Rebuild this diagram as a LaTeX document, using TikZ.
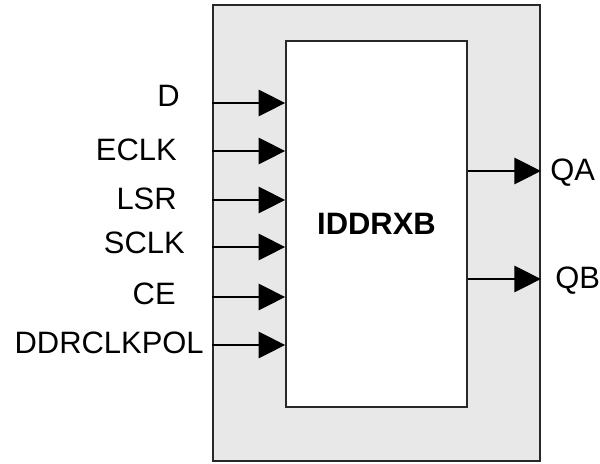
\documentclass[tikz,border=0pt]{standalone}
\usepackage{fontspec}
\setmainfont{Liberation Sans}
\usepackage{tikz}
\usetikzlibrary{arrows.meta}
\usepackage{xcolor}
\definecolor{shellgrey}{RGB}{232,232,232}
\definecolor{edgegrey}{RGB}{40,40,40}
\tikzset{
  pinlab/.style={font=\fontsize{22}{26}\selectfont, inner sep=0pt},
  wire/.style={draw=black, line width=0.9pt, -{Triangle[length=0.66cm,width=0.66cm]}},
  shellbox/.style={draw=edgegrey, fill=shellgrey, line width=1.2pt, inner sep=0pt,
    minimum width=8.175cm, minimum height=11.4cm},
  corebox/.style={draw=edgegrey, fill=white, line width=1.2pt, inner sep=0pt,
    minimum width=4.525cm, minimum height=9.15cm,
    font=\fontsize{22}{26}\selectfont\bfseries}
}

\begin{document}
\begin{tikzpicture}[x=0.025cm, y=-0.025cm]
    \useasboundingbox (0,0) rectangle (600,463);
    \node[shellbox] (shell) at (376.5,233) {};
    \node[corebox] (core) at (376.5,224) {IDDRXB};
    \foreach \nm/\y/\lx/\ly in {D/103/180/106, ECLK/151/177/160, LSR/200/177/209,
                               SCLK/247/185/253, CE/297/176/304, DDRCLKPOL/345/204/353}{
      \coordinate (in\nm) at (shell.west |- 0,\y);
      \draw[wire] (in\nm) -- (in\nm -| core.west);
      \node[pinlab, anchor=base east] (lab\nm) at (\lx,\ly) {\nm};
    }
    \foreach \nm/\y/\lx/\ly in {QA/171/550/180, QB/279/555/288}{
      \coordinate (out\nm) at (core.east |- 0,\y);
      \draw[wire] (out\nm) -- (out\nm -| shell.east);
      \node[pinlab, anchor=base west] (lab\nm) at (\lx,\ly) {\nm};
    }
\end{tikzpicture}
\end{document}
